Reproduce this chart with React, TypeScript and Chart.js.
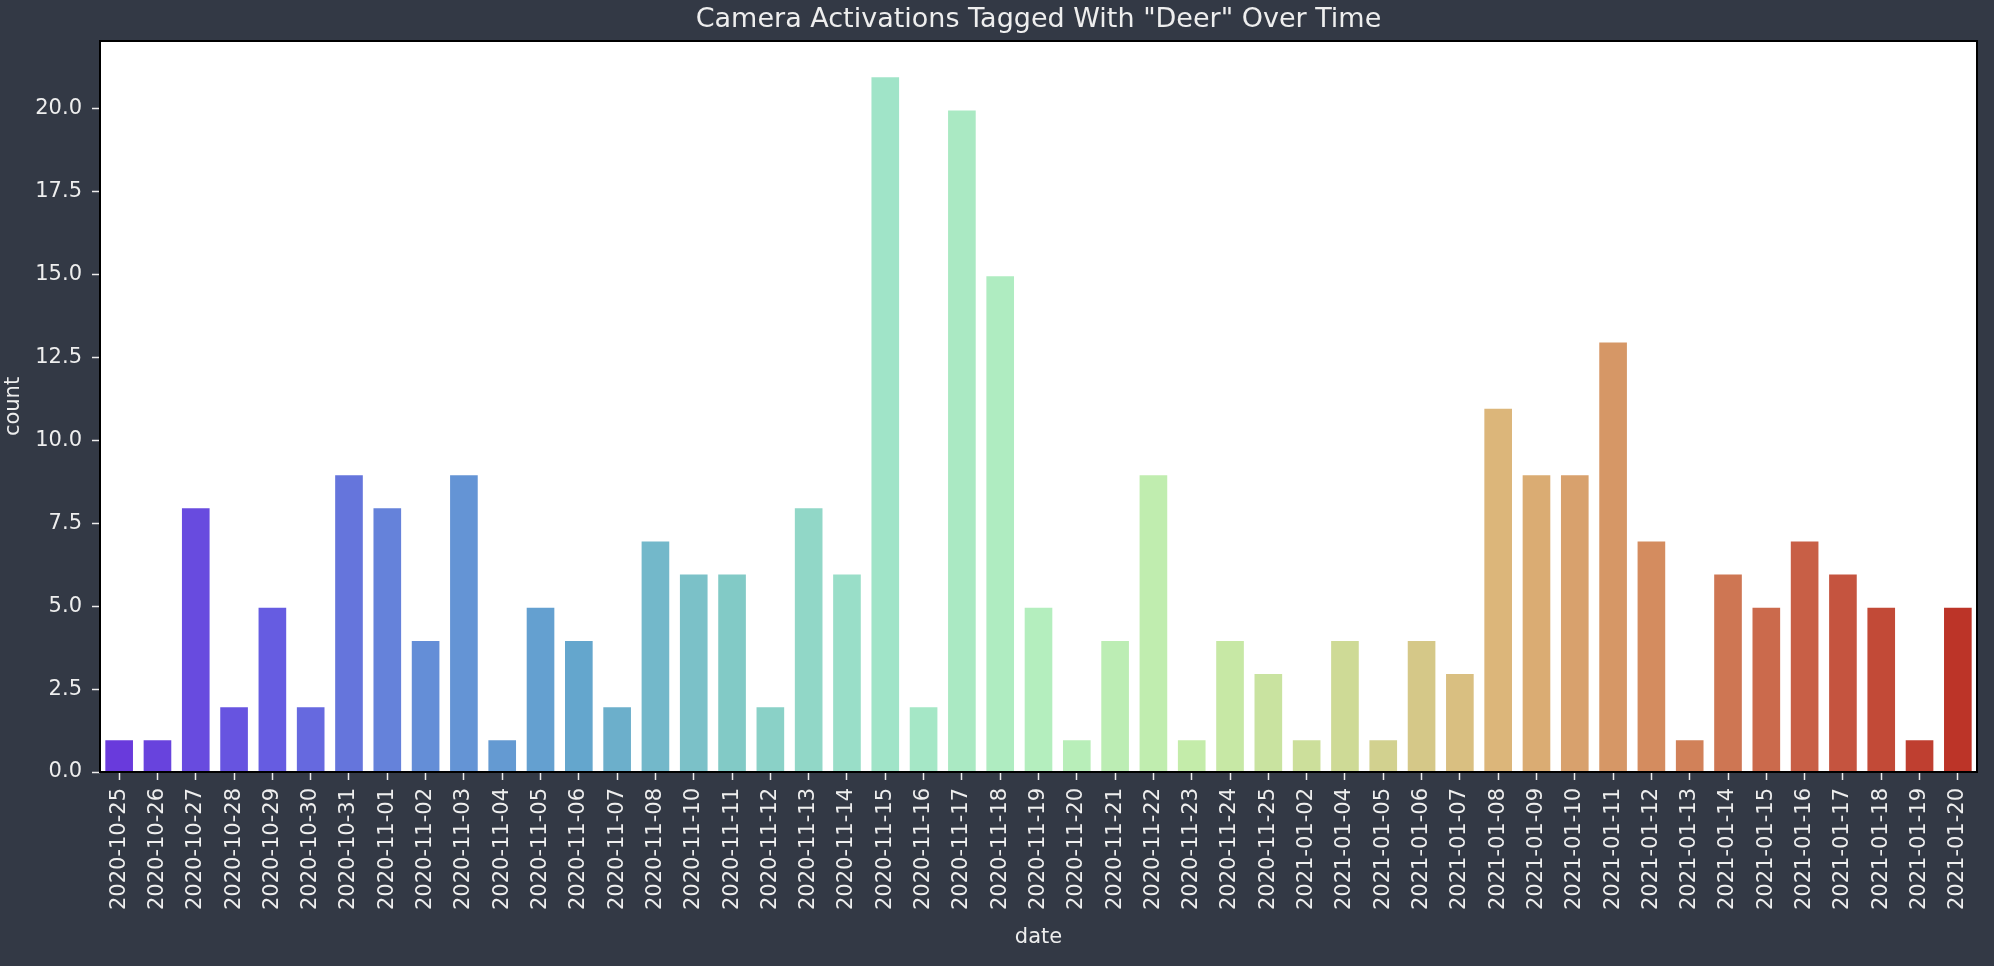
import React, { useRef, useEffect } from 'react';
import { Chart, registerables } from 'chart.js';

Chart.register(...registerables);

const dates = [
  '2020-10-25', '2020-10-26', '2020-10-27', '2020-10-28', '2020-10-29', '2020-10-30', '2020-10-31',
  '2020-11-01', '2020-11-02', '2020-11-03', '2020-11-04', '2020-11-05', '2020-11-06', '2020-11-07',
  '2020-11-08', '2020-11-10', '2020-11-11', '2020-11-12', '2020-11-13', '2020-11-14', '2020-11-15',
  '2020-11-16', '2020-11-17', '2020-11-18', '2020-11-19', '2020-11-20', '2020-11-21', '2020-11-22',
  '2020-11-23', '2020-11-24', '2020-11-25', '2021-01-02', '2021-01-04', '2021-01-05', '2021-01-06',
  '2021-01-07', '2021-01-08', '2021-01-09', '2021-01-10', '2021-01-11', '2021-01-12', '2021-01-13',
  '2021-01-14', '2021-01-15', '2021-01-16', '2021-01-17', '2021-01-18', '2021-01-19', '2021-01-20',
];

const counts = [
  1, 1, 8, 2, 5, 2, 9,
  8, 4, 9, 1, 5, 4, 2,
  7, 6, 6, 2, 8, 6, 21,
  2, 20, 15, 5, 1, 4, 9,
  1, 4, 3, 1, 4, 1, 4,
  3, 11, 9, 9, 13, 7, 1,
  6, 5, 7, 6, 5, 1, 5,
];

const yTicks = [0, 2.5, 5, 7.5, 10, 12.5, 15, 17.5, 20];

const TITLE = 'Camera Activations Tagged With "Deer" Over Time';
const BG = '#333945';
const TEXT = '#eeeeee';
const FONT = "'DejaVu Sans', sans-serif";

// colour stops of the desaturated rainbow palette
const paletteStops: [number, number, number][] = [
  [105, 58, 220],
  [102, 92, 225],
  [100, 142, 215],
  [100, 166, 205],
  [130, 202, 198],
  [160, 228, 200],
  [180, 238, 190],
  [196, 236, 170],
  [206, 218, 150],
  [220, 182, 122],
  [212, 140, 95],
  [200, 95, 70],
  [188, 52, 40],
];

function palette(n: number): string[] {
  const out: string[] = [];
  const segs = paletteStops.length - 1;
  for (let i = 0; i < n; i++) {
    const t = (i / (n - 1)) * segs;
    const k = Math.min(segs - 1, Math.floor(t));
    const f = t - k;
    const a = paletteStops[k];
    const b = paletteStops[k + 1];
    const c = a.map((v, j) => Math.round(v + (b[j] - v) * f));
    out.push(`rgb(${c[0]}, ${c[1]}, ${c[2]})`);
  }
  return out;
}

// white axes face, black frame, and a title centred over the axes (not the canvas)
const plotFrame = {
  id: 'plotFrame',
  beforeDatasetsDraw(chart: any) {
    const { ctx, chartArea } = chart;
    ctx.save();
    ctx.fillStyle = '#ffffff';
    ctx.fillRect(chartArea.left, chartArea.top, chartArea.right - chartArea.left, chartArea.bottom - chartArea.top);
    ctx.restore();
  },
  afterDatasetsDraw(chart: any) {
    const { ctx, chartArea } = chart;
    ctx.save();
    ctx.strokeStyle = '#000000';
    ctx.lineWidth = 2;
    ctx.strokeRect(chartArea.left, chartArea.top, chartArea.right - chartArea.left, chartArea.bottom - chartArea.top);
    ctx.fillStyle = TEXT;
    ctx.font = `27px ${FONT}`;
    ctx.textAlign = 'center';
    ctx.textBaseline = 'middle';
    ctx.fillText(TITLE, (chartArea.left + chartArea.right) / 2, 20);
    ctx.restore();
  },
};

const DeerChart: React.FC = () => {
  const chartRef = useRef<HTMLCanvasElement>(null);
  const chartInstanceRef = useRef<Chart | null>(null);

  useEffect(() => {
    if (!chartRef.current) return;
    const ctx = chartRef.current.getContext('2d');
    if (!ctx) return;
    const colors = palette(counts.length);

    chartInstanceRef.current = new Chart(ctx, {
      type: 'bar',
      data: {
        labels: dates,
        datasets: [
          {
            data: counts,
            backgroundColor: colors,
            borderColor: 'rgba(255,255,255,0.4)',
            borderWidth: 1.5,
            categoryPercentage: 1,
            barPercentage: 0.8,
          },
        ],
      },
      options: {
        animation: false,
        responsive: false,
        devicePixelRatio: 1,
        layout: { padding: { left: 0, right: 17, top: 41, bottom: 0 } },
        plugins: {
          legend: { display: false },
          tooltip: { enabled: false },
          title: { display: false },
        },
        scales: {
          x: {
            grid: { display: true, drawOnChartArea: false, offset: false, tickLength: 8, tickColor: TEXT, tickWidth: 1.5 },
            border: { display: false },
            ticks: {
              color: TEXT,
              font: { family: FONT, size: 21 },
              minRotation: 90,
              maxRotation: 90,
              autoSkip: false,
              padding: 8,
            },
            title: {
              display: true,
              text: 'date',
              color: TEXT,
              font: { family: FONT, size: 21 },
              padding: { top: 0, bottom: 16 },
            },
            afterFit(scale: any) {
              scale.height = 194;
            },
          },
          y: {
            min: 0,
            max: 22.05,
            grid: { display: true, drawOnChartArea: false, tickLength: 8, tickColor: TEXT, tickWidth: 1.5 },
            border: { display: false },
            afterBuildTicks(scale: any) {
              scale.ticks = yTicks.map((v) => ({ value: v }));
            },
            ticks: {
              color: TEXT,
              font: { family: FONT, size: 21 },
              padding: 10,
              callback: (v: any) => Number(v).toFixed(1),
            },
            title: {
              display: true,
              text: 'count',
              color: TEXT,
              font: { family: FONT, size: 21 },
              padding: { top: 1, bottom: 0 },
            },
            afterFit(scale: any) {
              scale.width = 100;
            },
          },
        },
      },
      plugins: [plotFrame],
    });

    return () => {
      if (chartInstanceRef.current) {
        chartInstanceRef.current.destroy();
        chartInstanceRef.current = null;
      }
    };
  }, []);

  return <canvas ref={chartRef} width={1994} height={966} style={{ display: 'block' }}></canvas>;
};

export default function App() {
  return (
    <div style={{ position: 'absolute', left: 0, top: 0, width: 1994, height: 966, background: BG, overflow: 'hidden' }}>
      <DeerChart />
    </div>
  );
}
